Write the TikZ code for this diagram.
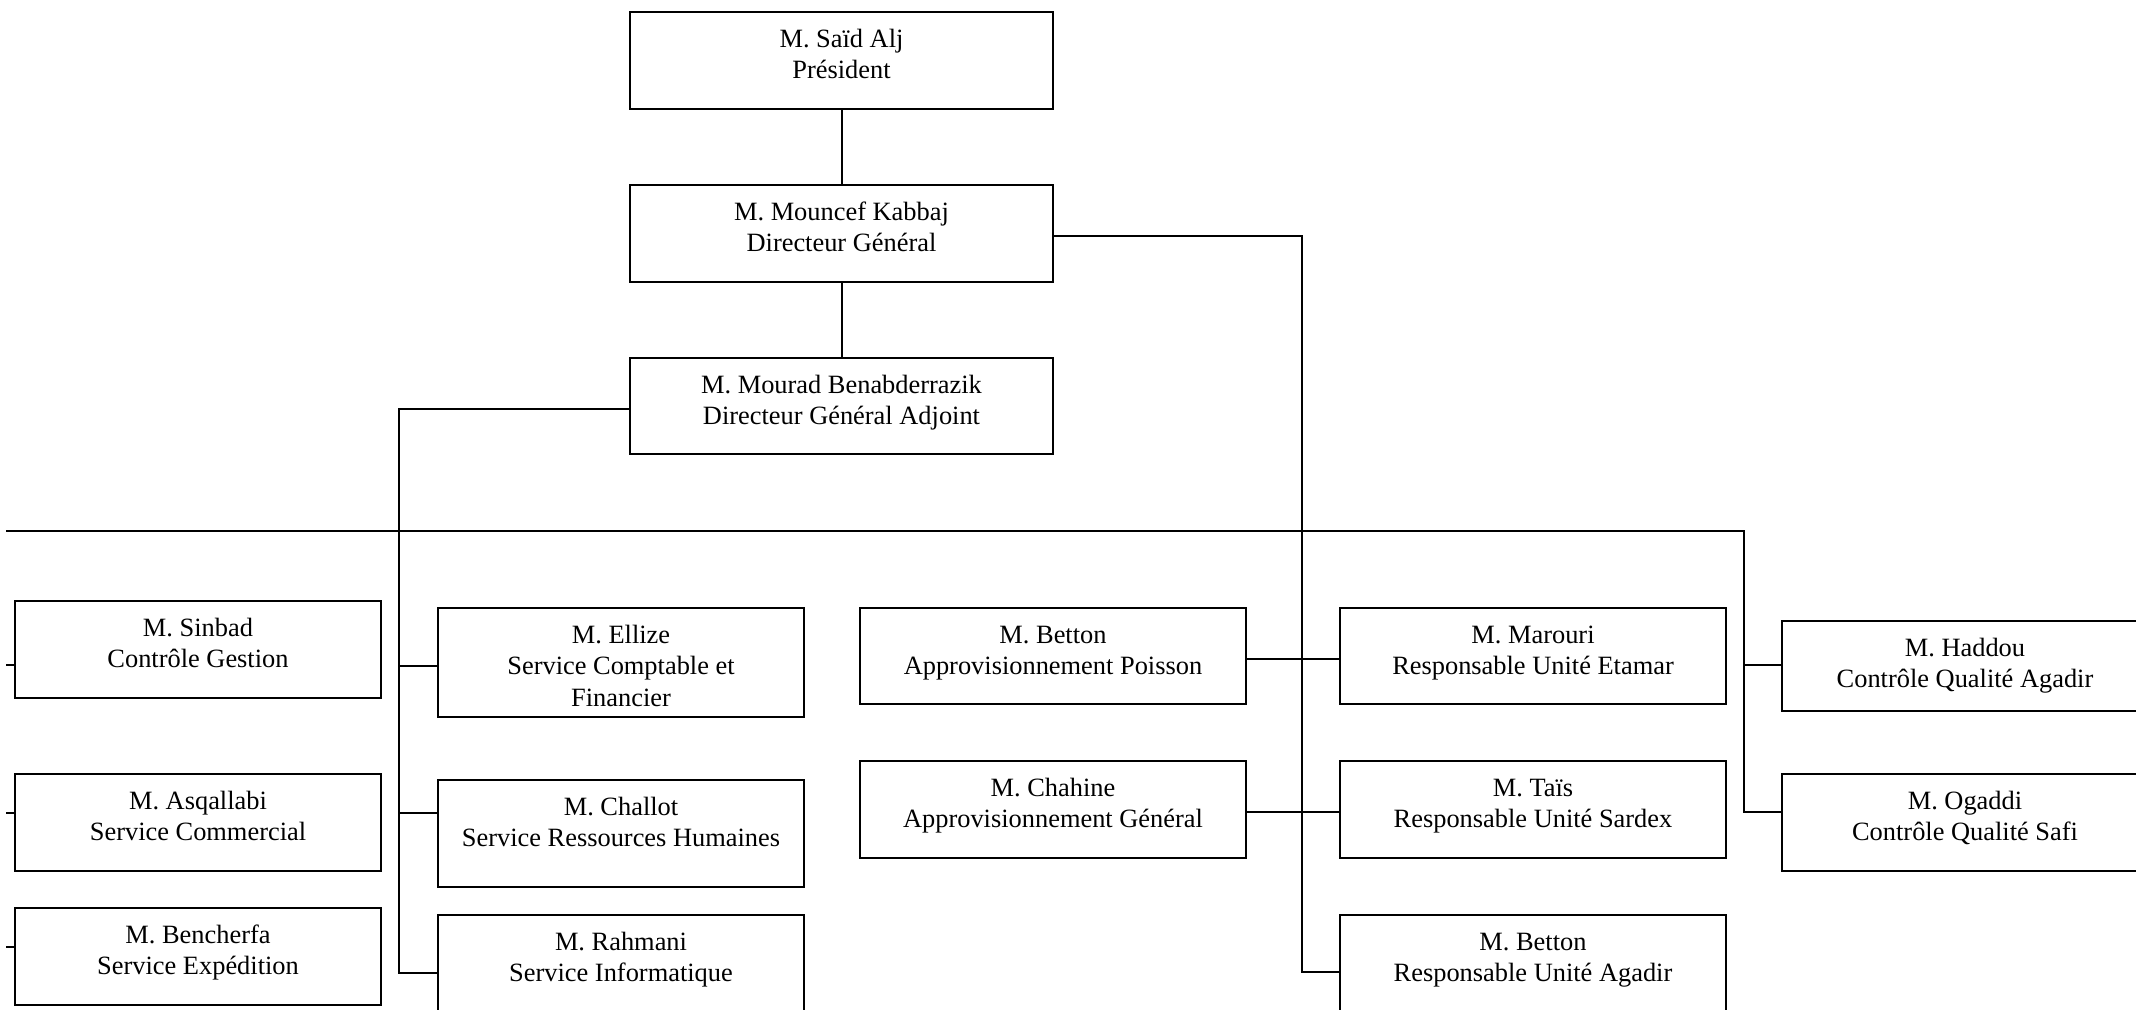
\documentclass[tikz,border=0pt]{standalone}
\usepackage{fontspec}
\setmainfont{Liberation Serif}
\usetikzlibrary{fit}
\tikzset{
  orgrect/.style={draw=black, line width=1pt, inner sep=0pt, rectangle},
  orgtxt/.style={inner sep=0pt, font=\fontsize{13.2}{15.7}\selectfont, text=black},
  link/.style={draw=black, line width=1pt}
}
\newcommand\orgbox[6]{%
  \node[orgrect, fit={(#2,#3) (#4,#5)}] (#1) {};
  \node[orgtxt, anchor=base] (#1t) at ([yshift=-18.2pt]#1.north) {\begin{tabular}[t]{@{}c@{}}#6\end{tabular}};
}
\begin{document}
\begin{tikzpicture}[x=0.5pt,y=-0.5pt]
\useasboundingbox (0,0) rectangle (2136,1009);
\clip (0,0) rectangle (2136,1009);
\fill[white] (0,0) rectangle (2136,1009);

% boxes
\orgbox{pres}{630}{12}{1053}{109}{M. Saïd Alj\\Président}
\orgbox{dg}{630}{185}{1053}{282}{M. Mouncef Kabbaj\\Directeur Général}
\orgbox{dga}{630}{358}{1053}{454}{M. Mourad Benabderrazik\\Directeur Général Adjoint}

\orgbox{sinbad}{15}{601}{381}{698}{M. Sinbad\\Contrôle Gestion}
\orgbox{asq}{15}{774}{381}{871}{M. Asqallabi\\Service Commercial}
\orgbox{benc}{15}{908}{381}{1005}{M. Bencherfa\\Service Expédition}

\orgbox{ellize}{438}{608}{804}{717}{M. Ellize\\Service Comptable et\\Financier}
\orgbox{challot}{438}{780}{804}{887}{M. Challot\\Service Ressources Humaines}
\orgbox{rahmani}{438}{915}{804}{1015}{M. Rahmani\\Service Informatique}

\orgbox{bpoisson}{860}{608}{1246}{704}{M. Betton\\Approvisionnement Poisson}
\orgbox{chahine}{860}{761}{1246}{858}{M. Chahine\\Approvisionnement Général}

\orgbox{marouri}{1340}{608}{1726}{704}{M. Marouri\\Responsable Unité Etamar}
\orgbox{tais}{1340}{761}{1726}{858}{M. Taïs\\Responsable Unité Sardex}
\orgbox{bagadir}{1340}{915}{1726}{1012}{M. Betton\\Responsable Unité Agadir}

\orgbox{haddou}{1782}{621}{2148}{711}{M. Haddou\\Contrôle Qualité Agadir}
\orgbox{ogaddi}{1782}{774}{2148}{871}{M. Ogaddi\\Contrôle Qualité Safi}

% junction coordinates
\coordinate (busL) at (6,531);
\coordinate (busR) at (1744,531);
\coordinate (vL) at (399,409);
\coordinate (vM) at (1302,236);
\coordinate (sL1) at (6,665);
\coordinate (sL2) at (6,813);
\coordinate (sL3) at (6,947);
\coordinate (jE) at (399,666);
\coordinate (jC) at (399,813);
\coordinate (jR) at (399,973);
\coordinate (jP) at (1302,659);
\coordinate (jG) at (1302,812);
\coordinate (jA) at (1302,972);
\coordinate (jH) at (1744,665);
\coordinate (jO) at (1744,812);

% top chain
\draw[link] (pres.south) -- (dg.north);
\draw[link] (dg.south) -- (dga.north);

% DGA branch on the left
\draw[link] (dga.west |- vL) -- (vL) -- (jR) -- (jR -| rahmani.west);
\draw[link] (jE) -- (jE -| ellize.west);
\draw[link] (jC) -- (jC -| challot.west);

% DG branch on the right
\draw[link] (dg.east |- vM) -- (vM) -- (jA) -- (jA -| bagadir.west);
\draw[link] (jP -| bpoisson.east) -- (jP -| marouri.west);
\draw[link] (jG -| chahine.east) -- (jG -| tais.west);

% horizontal bus
\draw[link] (busL) -- (busR) -- (jO) -- (jO -| ogaddi.west);
\draw[link] (jH) -- (jH -| haddou.west);

% left stubs
\draw[link] (sL1) -- (sL1 -| sinbad.west);
\draw[link] (sL2) -- (sL2 -| asq.west);
\draw[link] (sL3) -- (sL3 -| benc.west);
\end{tikzpicture}
\end{document}
